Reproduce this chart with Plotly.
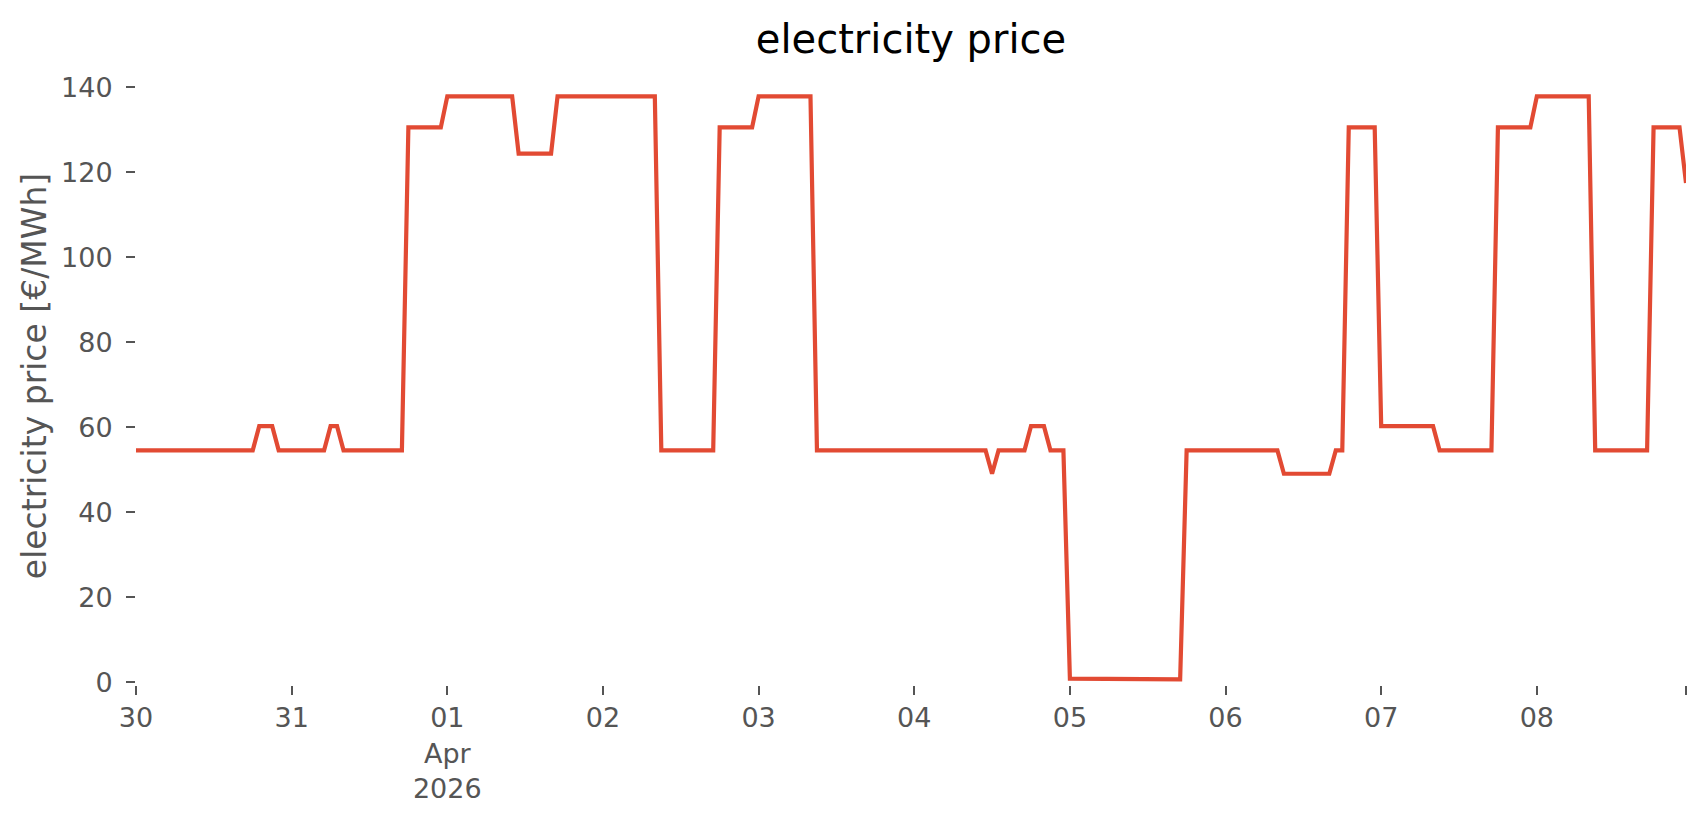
import pandas as pd
import plotly.graph_objects as go

# hourly electricity price [€/MWh], one list per day
mar30 = [54.6, 54.6, 54.6, 54.6, 54.6, 54.6, 54.6, 54.6, 54.6, 54.6, 54.6, 54.6,
         54.6, 54.6, 54.6, 54.6, 54.6, 54.6, 54.6, 60.3, 60.3, 60.3, 54.6, 54.6]
mar31 = [54.6, 54.6, 54.6, 54.6, 54.6, 54.6, 60.3, 60.3, 54.6, 54.6, 54.6, 54.6,
         54.6, 54.6, 54.6, 54.6, 54.6, 54.6, 130.6, 130.6, 130.6, 130.6, 130.6, 130.6]
apr01 = [137.9, 137.9, 137.9, 137.9, 137.9, 137.9, 137.9, 137.9, 137.9, 137.9, 137.9, 124.4,
         124.4, 124.4, 124.4, 124.4, 124.4, 137.9, 137.9, 137.9, 137.9, 137.9, 137.9, 137.9]
apr02 = [137.9, 137.9, 137.9, 137.9, 137.9, 137.9, 137.9, 137.9, 137.9, 54.6, 54.6, 54.6,
         54.6, 54.6, 54.6, 54.6, 54.6, 54.6, 130.6, 130.6, 130.6, 130.6, 130.6, 130.6]
apr03 = [137.9, 137.9, 137.9, 137.9, 137.9, 137.9, 137.9, 137.9, 137.9, 54.6, 54.6, 54.6,
         54.6, 54.6, 54.6, 54.6, 54.6, 54.6, 54.6, 54.6, 54.6, 54.6, 54.6, 54.6]
apr04 = [54.6, 54.6, 54.6, 54.6, 54.6, 54.6, 54.6, 54.6, 54.6, 54.6, 54.6, 54.6,
         49.1, 54.6, 54.6, 54.6, 54.6, 54.6, 60.3, 60.3, 60.3, 54.6, 54.6, 54.6]
apr05 = [0.9, 0.9, 0.9, 0.9, 0.9, 0.9, 0.9, 0.9, 0.9, 0.7, 0.7, 0.7,
         0.7, 0.7, 0.7, 0.7, 0.7, 0.7, 54.6, 54.6, 54.6, 54.6, 54.6, 54.6]
apr06 = [54.6, 54.6, 54.6, 54.6, 54.6, 54.6, 54.6, 54.6, 54.6, 49.1, 49.1, 49.1,
         49.1, 49.1, 49.1, 49.1, 49.1, 54.6, 54.6, 130.6, 130.6, 130.6, 130.6, 130.6]
apr07 = [60.3, 60.3, 60.3, 60.3, 60.3, 60.3, 60.3, 60.3, 60.3, 54.6, 54.6, 54.6,
         54.6, 54.6, 54.6, 54.6, 54.6, 54.6, 130.6, 130.6, 130.6, 130.6, 130.6, 130.6]
apr08 = [137.9, 137.9, 137.9, 137.9, 137.9, 137.9, 137.9, 137.9, 137.9, 54.6, 54.6, 54.6,
         54.6, 54.6, 54.6, 54.6, 54.6, 54.6, 130.6, 130.6, 130.6, 130.6, 130.6, 117.5]

prices = mar30 + mar31 + apr01 + apr02 + apr03 + apr04 + apr05 + apr06 + apr07 + apr08
start_time = "2026-03-30 00:00"
times = pd.date_range(start_time, periods=len(prices), freq="h")

tick_dates = ["2026-03-30 00:00", "2026-03-31 00:00", "2026-04-01 00:00", "2026-04-02 00:00",
              "2026-04-03 00:00", "2026-04-04 00:00", "2026-04-05 00:00", "2026-04-06 00:00",
              "2026-04-07 00:00", "2026-04-08 00:00", "2026-04-08 23:00"]
tick_labels = ["30", "31", "01<br>Apr<br>2026", "02", "03", "04", "05", "06", "07", "08", ""]
y_ticks = [0, 20, 40, 60, 80, 100, 120, 140]

FONT = "DejaVu Sans"
GREY = "#555555"

# the page body adds an 8 px margin, so the figure is sized to fit inside it
W, H = 1690, 799

fig = go.Figure()
fig.add_trace(go.Scatter(
    x=times, y=prices, mode="lines",
    line=dict(color="#E24A33", width=4.2),
    showlegend=False,
))

fig.update_layout(
    width=W, height=H,
    margin=dict(l=128, r=12, t=59, b=122, autoexpand=False),
    paper_bgcolor="white", plot_bgcolor="white",
    font=dict(family=FONT, color=GREY, size=27),
    title=dict(text="electricity price", x=0.5, xref="paper", xanchor="center",
               y=1 - 31 / H, yref="container", yanchor="middle",
               font=dict(family=FONT, size=40, color="black")),
)
fig.update_xaxes(
    range=[times[0], times[-1]],
    tickmode="array", tickvals=tick_dates, ticktext=tick_labels,
    ticks="outside", ticklen=9, tickwidth=2, tickcolor=GREY,
    tickfont=dict(family=FONT, size=27, color=GREY),
    showgrid=False, zeroline=False, showline=False,
    ticklabelstandoff=0, automargin=False,
)
fig.update_yaxes(
    range=[-0.6, 144.8],
    tickmode="array", tickvals=y_ticks,
    ticks="outside", ticklen=9, tickwidth=2, tickcolor=GREY,
    tickfont=dict(family=FONT, size=27, color=GREY),
    showgrid=False, zeroline=False, showline=False,
    ticklabelstandoff=8, automargin=False,
    title=dict(text="electricity price [€/MWh]", standoff=4,
               font=dict(family=FONT, size=33, color=GREY)),
)

fig.write_html("out.html")
